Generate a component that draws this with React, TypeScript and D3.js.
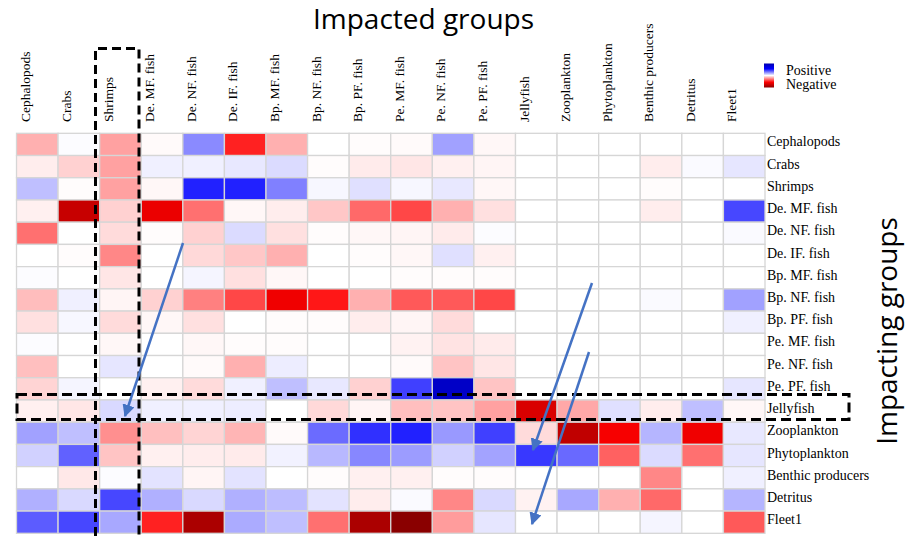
import React from "react";
import { scaleBand, scaleLinear } from "d3";

// impacted groups (columns) and impacting groups (rows)
const impactedGroups = [
  "Cephalopods", "Crabs", "Shrimps", "De. MF. fish", "De. NF. fish", "De. IF. fish",
  "Bp. MF. fish", "Bp. NF. fish", "Bp. PF. fish", "Pe. MF. fish", "Pe. NF. fish",
  "Pe. PF. fish", "Jellyfish", "Zooplankton", "Phytoplankton", "Benthic producers",
  "Detritus", "Fleet1",
];
const impactingGroups = impactedGroups;

// relative impact, blue = positive, red = negative (100 = full colour, >100 darker)
const cephalopods = [-31, 1, -37, -2, 46, -87, -31, 0, -1, -2, 37, -3, 0, 0, 0, 0, 0, 0];
const crabs = [-7, -18, -37, 6, 6, 9, 14, -1, -8, -10, -6, -4, 0, 0, 0, -7, 2, 10];
const shrimps = [25, -1, -37, -3, 87, 87, 50, 3, 12, 3, 9, -3, 0, 0, 0, -1, 0, 0];
const deMF = [-6, -122, -18, -108, -56, -3, -7, -22, -59, -72, -31, -12, 0, 0, 0, -7, 0, 72];
const deNF = [-56, 0, -14, -1, -18, 14, -12, -1, -3, -4, -8, 1, 0, 0, 0, 0, 0, 2];
const deIF = [0, -1, -47, 0, -15, -22, -31, 0, -1, -3, 12, -6, 0, 0, 0, 0, 0, 0];
const bpMF = [1, 0, -10, 0, 4, -12, -3, 0, 0, -1, -1, -1, 0, 0, 0, 0, 0, 0];
const bpNF = [-26, 6, -4, -18, -50, -72, -106, -91, -31, -65, -65, -72, 0, 0, 0, 2, 0, 37];
const bpPF = [-12, 3, -14, -3, -12, 0, -1, -1, -7, -4, -14, 0, 0, 0, 0, 0, 0, 6];
const peMF = [1, 0, -3, 0, -3, -1, -1, 0, 0, -5, -11, -8, 0, 0, 0, 0, 0, 0];
const peNF = [-25, 0, 10, 0, -2, -31, 7, 0, 0, -2, -23, -10, 0, 0, 0, 0, 0, 0];
const pePF = [-17, 4, 0, -6, -14, 6, 25, 9, -18, 75, 122, -23, 0, 0, 0, 0, 0, 10];
const jellyfish = [-6, -10, 15, 6, 6, 7, 0, -15, -4, -25, -23, -37, -115, -34, 12, -7, 25, -3];
const zooplankton = [37, 25, -44, -25, -17, -29, -2, 58, 81, 87, 40, 75, -14, -125, -103, 29, -106, 9];
const phytoplankton = [18, 62, -23, -6, -7, -8, 5, 28, 47, 39, 18, 36, 78, 59, -62, 14, -56, 10];
const benthic = [0, -9, 1, 11, -4, 11, 0, -1, -6, -6, -1, -1, 0, 0, 0, -47, 0, 6];
const detritus = [31, 15, 72, 31, 15, 31, 26, 11, -7, 2, -47, 15, -5, 34, -31, -59, 0, 29];
const fleet1 = [64, 72, 34, -87, -133, 33, 25, -56, -133, -146, -39, 10, 0, 0, 0, 4, 0, -65];

const matrix = [
  cephalopods, crabs, shrimps, deMF, deNF, deIF, bpMF, bpNF, bpPF,
  peMF, peNF, pePF, jellyfish, zooplankton, phytoplankton, benthic, detritus, fleet1,
];

const legendLabels = ["Positive", "Negative"];

const W = 919;
const H = 536;
const serif = "'Liberation Serif', 'Times New Roman', serif";
const sans = "'Open Sans', 'Noto Sans', sans-serif";
const arrowBlue = "#4472c4";

export default function App() {
  const x = scaleBand<string>().domain(impactedGroups).range([16.5, 765]);
  const y = scaleBand<string>().domain(impactingGroups).range([133.3, 533.3]);
  const color = scaleLinear<string>()
    .domain([-150, -100, 0, 100, 150])
    .range(["#800000", "#ff0000", "#ffffff", "#0000ff", "#000080"]);

  const cells = matrix.flatMap((row, i) =>
    row.map((v, j) => (
      <rect
        key={i + "-" + j}
        x={x(impactedGroups[j])}
        y={y(impactingGroups[i])}
        width={x.bandwidth()}
        height={y.bandwidth()}
        fill={color(v)}
        stroke="#d6d6d6"
        strokeWidth={1.3}
      />
    ))
  );

  const colLabels = impactedGroups.map((d) => {
    const cx = (x(d) as number) + 13;
    return (
      <text
        key={d}
        transform={`translate(${cx},122) rotate(-90)`}
        textAnchor="start"
        fontFamily={serif}
        fontSize={13.5}
        fill="#000"
      >
        {d}
      </text>
    );
  });

  const rowLabels = impactingGroups.map((d) => (
    <text
      key={d}
      x={767}
      y={(y(d) as number) + y.bandwidth() / 2 + 2}
      fontFamily={serif}
      fontSize={14}
      fill="#000"
    >
      {d}
    </text>
  ));

  // shrimps column and jellyfish row highlights
  const sx0 = 95.5;
  const sx1 = 139;
  const jy0 = 394.5;
  const jy1 = 419.5;

  return (
    <svg
      width={W}
      height={H}
      viewBox={`0 0 ${W} ${H}`}
      style={{ position: "absolute", left: 0, top: 0, background: "#fff" }}
    >
      <defs>
        <linearGradient id="legendGrad" x1="0" y1="0" x2="0" y2="1">
          <stop offset="0" stopColor="#0000b0" />
          <stop offset="0.22" stopColor="#0000ff" />
          <stop offset="0.5" stopColor="#ffffff" />
          <stop offset="0.78" stopColor="#ff0000" />
          <stop offset="1" stopColor="#8b0000" />
        </linearGradient>
        <marker
          id="arrowHead"
          viewBox="0 0 10 10"
          refX="9"
          refY="5"
          markerWidth="5"
          markerHeight="5"
          orient="auto"
        >
          <path d="M0,0 L10,5 L0,10 z" fill={arrowBlue} />
        </marker>
      </defs>

      <g>{cells}</g>
      <g>{colLabels}</g>
      <g>{rowLabels}</g>

      <text x={423.5} y={28.5} textAnchor="middle" fontFamily={sans} fontSize={28} fill="#000">
        Impacted groups
      </text>
      <text
        transform="translate(897,331) rotate(-90)"
        textAnchor="middle"
        fontFamily={sans}
        fontSize={28}
        fill="#000"
      >
        Impacting groups
      </text>

      <g>
        <rect x={764} y={63.5} width={10} height={24} fill="url(#legendGrad)" />
        <text x={786} y={74.5} fontFamily={serif} fontSize={14}>{legendLabels[0]}</text>
        <text x={786} y={88.5} fontFamily={serif} fontSize={14}>{legendLabels[1]}</text>
      </g>

      <g fill="none" stroke="#000" strokeWidth={3}>
        <path d={`M${sx0},${H} V48.5 H${sx1} V${H}`} strokeDasharray="9 5" />
        <path d={`M17,${jy0} H849 V${jy1} H17 Z`} strokeDasharray="10 5" />
      </g>

      <g stroke={arrowBlue} strokeWidth={2.5} fill="none" markerEnd="url(#arrowHead)">
        <line x1={183} y1={243} x2={125} y2={416} />
        <line x1={592} y1={283} x2={533} y2={450} />
        <line x1={589} y1={352} x2={532} y2={524} />
      </g>
    </svg>
  );
}
